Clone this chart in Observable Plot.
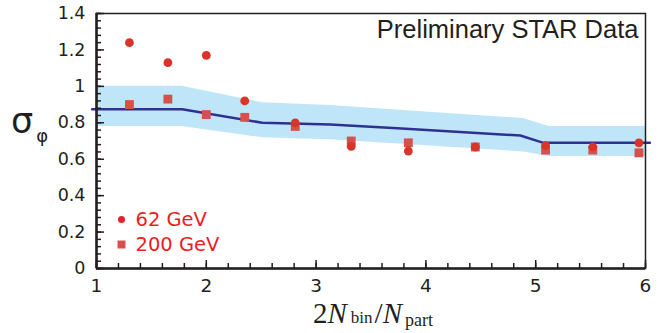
<!DOCTYPE html>
<html>
<head>
<meta charset="utf-8">
<script src="https://cdn.jsdelivr.net/npm/d3@7"></script>
<script src="https://cdn.jsdelivr.net/npm/@observablehq/plot@0.6"></script>
<style>
  html, body { margin: 0; padding: 0; background: #fff; }
  #chart svg { display: block; }
</style>
</head>
<body>
<div id="chart"></div>
<script>
// ---- data ----
const centrality = [1.30, 1.65, 2.00, 2.35, 2.81, 3.32, 3.84, 4.45, 5.09, 5.52, 5.94];
const sigma62    = [1.24, 1.13, 1.17, 0.92, 0.80, 0.67, 0.645, 0.667, 0.675, 0.667, 0.69];
const sigma200   = [0.90, 0.93, 0.845, 0.83, 0.78, 0.70, 0.69, 0.667, 0.65, 0.65, 0.635];

const modelX = [0.96, 1.78, 2.51, 3.13, 3.74, 4.86, 5.07, 6.04];
const modelY = [0.874, 0.874, 0.80, 0.79, 0.77, 0.73, 0.69, 0.69];

const bandX  = [1.00, 1.78, 2.51, 3.13, 4.89, 5.12, 6.00];
const bandHi = [1.00, 1.00, 0.91, 0.895, 0.823, 0.78, 0.78];
const bandLo = [0.78, 0.78, 0.718, 0.707, 0.64, 0.615, 0.615];

const xTicks = [1, 2, 3, 4, 5, 6];
const yTicks = [0, 0.2, 0.4, 0.6, 0.8, 1, 1.2, 1.4];
const xMinor = d3.range(0, 26).map(i => 1 + i * 0.2);
const yMinor = d3.range(0, 36).map(i => +(i * 0.04).toFixed(2));

const legendLabels = ["62 GeV", "200 GeV"];
const title = "Preliminary STAR Data";

// ---- tables ----
const pts62 = centrality.map((x, i) => ({x, y: sigma62[i]}));
const pts200 = centrality.map((x, i) => ({x, y: sigma200[i]}));
const model = modelX.map((x, i) => ({x, y: modelY[i]}));
const band = bandX.map((x, i) => ({x, lo: bandLo[i], hi: bandHi[i]}));

// ---- layout ----
const W = 662, H = 333;
const mL = 96, mR = 17, mT = 13, mB = 65;
const pw = W - mL - mR, ph = H - mT - mB;
const ink = "#231f20";
const tickFont = "DejaVu Sans";

const chart = Plot.plot({
  width: W, height: H,
  marginLeft: mL, marginRight: mR, marginTop: mT, marginBottom: mB,
  x: {domain: [1, 6]},
  y: {domain: [0, 1.4]},
  style: {background: "#fff", color: ink},
  marks: [
    Plot.areaY(band, {x: "x", y1: "lo", y2: "hi", fill: "#bee6f8"}),
    Plot.line(model, {x: "x", y: "y", stroke: "#2e3192", strokeWidth: 2.5, clip: false}),
    Plot.dot(pts200, {x: "x", y: "y", symbol: "square", r: 5, fill: "#d6514c"}),
    Plot.dot(pts62, {x: "x", y: "y", r: 4.4, fill: "#d9332a"}),
    // frame and axes
    Plot.frame({stroke: ink, strokeWidth: 1.5}),
    Plot.ruleX([1], {stroke: ink, strokeWidth: 2.5}),
    Plot.ruleY([0], {stroke: ink, strokeWidth: 2.5}),
    Plot.tickY(yMinor, {y: d => d, insetRight: pw - 5, stroke: ink, strokeWidth: 1.5}),
    Plot.tickY(yTicks, {y: d => d, insetRight: pw - 8, stroke: ink, strokeWidth: 1.5}),
    Plot.tickX(xMinor, {x: d => d, insetTop: ph - 5, stroke: ink, strokeWidth: 1.5}),
    Plot.tickX(xTicks, {x: d => d, insetTop: ph - 8, stroke: ink, strokeWidth: 1.5}),
    Plot.axisY(yTicks, {tickSize: 0, tickPadding: 11, fontSize: 17.5, fontFamily: tickFont, fill: ink, tickFormat: d => String(d), label: null}),
    Plot.axisX(xTicks, {tickSize: 0, tickPadding: 10, fontSize: 18.5, fontFamily: tickFont, fill: ink, tickFormat: d => String(d), label: null}),
    // title
    Plot.text([title], {frameAnchor: "top-right", dx: -7, dy: 6.5, textAnchor: "end", lineAnchor: "top", fontSize: 25.5, fontFamily: "Liberation Sans", fill: ink}),
    // legend
    Plot.dot([legendLabels[0]], {frameAnchor: "bottom-left", dx: 25, dy: -49, r: 3.5, fill: "#e8202a"}),
    Plot.dot([legendLabels[1]], {frameAnchor: "bottom-left", dx: 25, dy: -24, r: 4.5, symbol: "square", fill: "#d6514c"}),
    Plot.text([legendLabels[0]], {frameAnchor: "bottom-left", dx: 39, dy: -49, textAnchor: "start", lineAnchor: "middle", fontSize: 19.5, fontFamily: tickFont, fill: "#ed1c24"}),
    Plot.text([legendLabels[1]], {frameAnchor: "bottom-left", dx: 39, dy: -24, textAnchor: "start", lineAnchor: "middle", fontSize: 19.5, fontFamily: tickFont, fill: "#ed1c24"})
  ]
});

const svg = d3.select(chart);
// y axis label: sigma_phi
const yl = svg.append("text").attr("x", 11).attr("y", 133).attr("fill", ink).attr("text-anchor", "start");
yl.append("tspan").attr("font-family", "DejaVu Sans").attr("font-size", 35).text("σ");
yl.append("tspan").attr("font-family", "DejaVu Sans").attr("font-size", 18).attr("dx", 3).attr("dy", 9).text("φ");
// x axis label: 2 N_bin / N_part
const xl = svg.append("text").attr("x", 313).attr("y", 323).attr("fill", ink).attr("text-anchor", "start").attr("font-family", "Liberation Serif");
xl.append("tspan").attr("font-size", 29).text("2");
xl.append("tspan").attr("font-size", 29).attr("font-style", "italic").text("N");
xl.append("tspan").attr("font-size", 17).attr("dx", 4).text("bin");
xl.append("tspan").attr("font-size", 29).attr("dx", 2).text("/");
xl.append("tspan").attr("font-size", 29).attr("font-style", "italic").text("N");
xl.append("tspan").attr("font-size", 18).attr("dx", 3).attr("dy", 3).text("part");

document.getElementById("chart").appendChild(chart);
</script>
</body>
</html>
